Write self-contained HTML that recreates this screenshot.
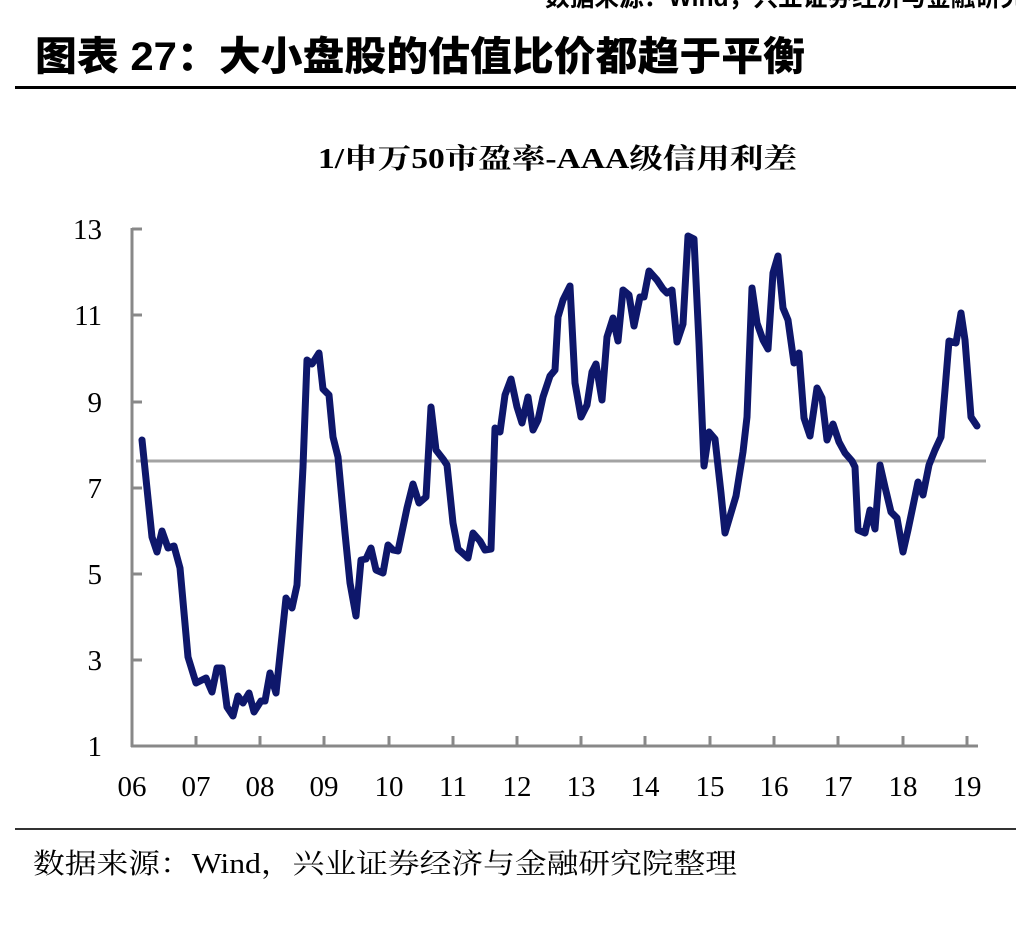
<!DOCTYPE html>
<html><head><meta charset="utf-8"><style>
html,body{margin:0;padding:0;background:#fff;}
body{width:1016px;height:932px;position:relative;overflow:hidden;}
.abs{position:absolute;white-space:nowrap;}
</style></head><body>
<div class="abs" style="left:15px;top:86px;width:1001px;height:3px;background:#000;"></div>
<div class="abs" style="left:15px;top:828px;width:1001px;height:2px;background:#333;"></div>
<svg class="abs" style="left:0;top:0" width="1016" height="932" viewBox="0 0 1016 932">
<text x="545" y="6" font-size="26" font-weight="bold" font-family="Liberation Sans,Noto Sans CJK SC,sans-serif" textLength="480" lengthAdjust="spacingAndGlyphs">数据来源：Wind，兴业证券经济与金融研究</text>
<text x="35" y="70" font-size="40" font-weight="900" font-family="Liberation Sans,Noto Sans CJK SC,sans-serif" textLength="770" lengthAdjust="spacingAndGlyphs">图表 27：大小盘股的估值比价都趋于平衡</text>
<text x="318" y="168" font-size="28" font-weight="bold" font-family="Liberation Serif,Noto Serif CJK SC,serif" textLength="479" lengthAdjust="spacingAndGlyphs">1/申万50市盈率-AAA级信用利差</text>
<text x="33" y="873" font-size="28" font-family="Liberation Serif,Noto Serif CJK SC,serif" textLength="704" lengthAdjust="spacingAndGlyphs">数据来源：Wind，兴业证券经济与金融研究院整理</text>
<g stroke="#888" stroke-width="3" fill="none">
<line x1="132" y1="228" x2="132" y2="747"/>
<line x1="131" y1="746" x2="978" y2="746"/>
<line x1="132" y1="229" x2="142" y2="229"/><line x1="132" y1="315" x2="142" y2="315"/><line x1="132" y1="402" x2="142" y2="402"/><line x1="132" y1="488" x2="142" y2="488"/><line x1="132" y1="574" x2="142" y2="574"/><line x1="132" y1="660" x2="142" y2="660"/>
<line x1="196" y1="736" x2="196" y2="746"/><line x1="260" y1="736" x2="260" y2="746"/><line x1="324" y1="736" x2="324" y2="746"/><line x1="389" y1="736" x2="389" y2="746"/><line x1="453" y1="736" x2="453" y2="746"/><line x1="517" y1="736" x2="517" y2="746"/><line x1="581" y1="736" x2="581" y2="746"/><line x1="645" y1="736" x2="645" y2="746"/><line x1="710" y1="736" x2="710" y2="746"/><line x1="774" y1="736" x2="774" y2="746"/><line x1="838" y1="736" x2="838" y2="746"/><line x1="903" y1="736" x2="903" y2="746"/><line x1="967" y1="736" x2="967" y2="746"/>
</g>
<g font-size="29" font-family="Liberation Serif,serif" text-anchor="end">
<text x="102" y="239">13</text><text x="102" y="325">11</text><text x="102" y="412">9</text><text x="102" y="498">7</text><text x="102" y="584">5</text><text x="102" y="670">3</text><text x="102" y="756">1</text>
</g>
<g font-size="29" font-family="Liberation Serif,serif" text-anchor="middle">
<text x="132" y="796">06</text><text x="196" y="796">07</text><text x="260" y="796">08</text><text x="324" y="796">09</text><text x="389" y="796">10</text><text x="453" y="796">11</text><text x="517" y="796">12</text><text x="581" y="796">13</text><text x="645" y="796">14</text><text x="710" y="796">15</text><text x="774" y="796">16</text><text x="838" y="796">17</text><text x="903" y="796">18</text><text x="967" y="796">19</text>
</g>
<line x1="136" y1="461" x2="986" y2="461" stroke="#a3a3a3" stroke-width="3"/>
<polyline fill="none" stroke="#0e176b" stroke-width="7" stroke-linejoin="round" stroke-linecap="round" points="142,440 152,537 157,552 162,531 168,548 174,546 180,568 188,657 196,683 206,678 212,692 217,668 222,668 227,707 233,716 238,696 243,703 249,693 254,712 261,701 265,701 270,673 276,693 286,598 292,608 297,585 303,467 307,360 312,364 319,353 323,389 329,395 333,437 338,457 345,533 350,583 356,616 361,560 366,559 371,548 376,570 383,573 388,545 393,550 398,551 407,508 413,484 419,503 426,497 431,407 436,450 443,459 447,465 453,523 458,549 468,558 473,533 480,541 485,550 491,549 495,428 500,432 505,395 511,379 517,407 522,423 528,397 533,430 538,420 543,397 550,376 555,370 558,317 563,300 570,286 575,383 581,417 587,405 592,372 596,364 602,400 607,337 613,318 618,341 623,290 629,295 634,326 640,297 644,297 649,271 657,280 663,289 667,293 672,290 677,342 683,324 688,236 694,239 699,343 704,466 709,432 715,439 721,493 725,533 736,496 743,452 747,417 752,288 757,323 763,340 768,349 773,273 778,256 783,308 788,320 794,363 799,353 804,418 810,436 817,388 822,398 827,440 833,424 839,442 845,453 852,461 855,467 858,530 865,533 870,510 875,529 880,465 885,487 891,512 897,518 903,552 908,530 918,482 923,495 929,465 935,450 941,437 945,390 949,341 956,343 961,313 965,340 971,417 977,426"/>
</svg>
</body></html>
